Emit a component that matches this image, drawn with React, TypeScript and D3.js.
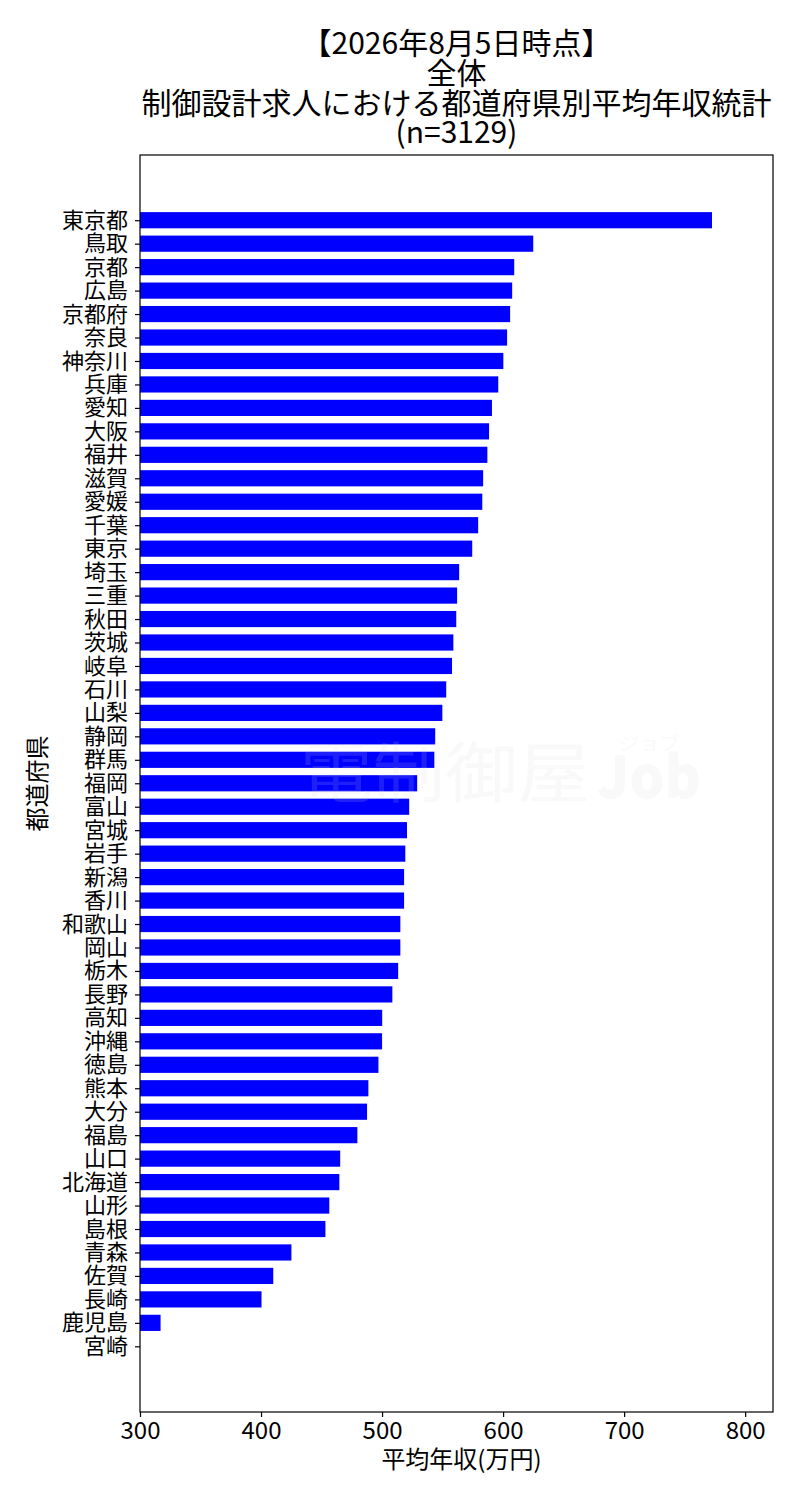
import React, { useEffect, useRef } from 'react';
import * as d3 from 'd3';

// 都道府県 (sorted by salary, descending)
const prefectures = [
  '東京都', '鳥取', '京都', '広島', '京都府', '奈良', '神奈川', '兵庫', '愛知', '大阪',
  '福井', '滋賀', '愛媛', '千葉', '東京', '埼玉', '三重', '秋田', '茨城', '岐阜',
  '石川', '山梨', '静岡', '群馬', '福岡', '富山', '宮城', '岩手', '新潟', '香川',
  '和歌山', '岡山', '栃木', '長野', '高知', '沖縄', '徳島', '熊本', '大分', '福島',
  '山口', '北海道', '山形', '島根', '青森', '佐賀', '長崎', '鹿児島', '宮崎',
];

// 平均年収 (万円)
const salaries = [
  772.6, 624.9, 609.2, 607.5, 605.8, 603.3, 600.2, 596.0, 590.8, 588.4,
  587.0, 583.5, 582.8, 579.4, 574.5, 563.7, 562.0, 561.3, 558.9, 557.8,
  553.0, 549.8, 543.9, 543.2, 529.0, 522.4, 520.6, 519.2, 518.2, 518.2,
  515.1, 515.1, 513.3, 508.5, 500.1, 500.0, 497.0, 488.7, 487.6, 479.6,
  465.4, 464.7, 456.4, 453.2, 425.1, 410.1, 400.4, 317.0, 0,
];

const xTicks = [300, 400, 500, 600, 700, 800];

const titleLines = ['【2026年8月5日時点】', '全体', '制御設計求人における都道府県別平均年収統計', '(n=3129)'];

const FONT = '"Noto Sans CJK JP", "Noto Sans", sans-serif';

const W = 800;
const H = 1500;
const margin = { top: 155, right: 27, bottom: 88, left: 140 };

const App: React.FC = () => {
  const ref = useRef<SVGSVGElement | null>(null);

  useEffect(() => {
    const root = d3.select(ref.current);
    root.selectAll('*').remove();

    const innerW = W - margin.left - margin.right;
    const innerH = H - margin.top - margin.bottom;

    const x = d3.scaleLinear().domain([300, 823]).range([0, innerW]);
    const y = d3
      .scaleLinear()
      .domain([-2.78, prefectures.length - 1 + 2.8])
      .range([0, innerH]);
    const barH = 0.69 * (y(1) - y(0));

    const g = root.append('g').attr('transform', `translate(${margin.left},${margin.top})`);

    // bars
    g.selectAll('rect.bar')
      .data(salaries)
      .enter()
      .append('rect')
      .attr('class', 'bar')
      .attr('x', x(300))
      .attr('y', (_d, i) => y(i) - barH / 2)
      .attr('width', (d) => Math.max(0, x(d) - x(300)))
      .attr('height', barH)
      .attr('fill', '#0000ff');

    // watermark
    const wm = root.append('g').attr('opacity', 0.14).attr('fill', '#d8d8d8').style('font-family', FONT);
    wm.append('text').attr('x', 300).attr('y', 797).attr('font-size', 66).attr('textLength', 290).attr('lengthAdjust', 'spacingAndGlyphs').text('電制御屋');
    wm.append('text').attr('x', 597).attr('y', 798).attr('font-size', 58).attr('font-weight', 900).attr('textLength', 104).attr('lengthAdjust', 'spacingAndGlyphs').text('Job');
    wm.append('text').attr('x', 618).attr('y', 750).attr('font-size', 18).attr('textLength', 62).attr('lengthAdjust', 'spacingAndGlyphs').text('ジョブ');

    // y axis
    const yAxis = d3
      .axisLeft(y)
      .tickValues(d3.range(prefectures.length))
      .tickFormat((d) => prefectures[d as number])
      .tickSize(5)
      .tickPadding(7);
    const ya = g.append('g').call(yAxis);
    ya.select('.domain').remove();
    ya.selectAll('text').style('font-family', FONT).style('font-size', '22px').attr('fill', '#000');
    ya.selectAll('line').attr('stroke', '#000').attr('stroke-width', 1.2);

    // x axis
    const xAxis = d3.axisBottom(x).tickValues(xTicks).tickFormat(d3.format('d')).tickSize(5).tickPadding(5);
    const xa = g.append('g').attr('transform', `translate(0,${innerH})`).call(xAxis);
    xa.select('.domain').remove();
    xa.selectAll('text').style('font-family', FONT).style('font-size', '24px').attr('fill', '#000');
    xa.selectAll('line').attr('stroke', '#000').attr('stroke-width', 1.2);

    // frame
    g.append('rect')
      .attr('x', 0)
      .attr('y', 0)
      .attr('width', innerW)
      .attr('height', innerH)
      .attr('fill', 'none')
      .attr('stroke', '#000')
      .attr('stroke-width', 1.2);

    // axis labels
    root
      .append('text')
      .attr('x', margin.left + innerW / 2 + 5)
      .attr('y', 1468)
      .attr('text-anchor', 'middle')
      .style('font-family', FONT)
      .style('font-size', '24px')
      .text('平均年収(万円)');

    root
      .append('text')
      .attr('transform', `translate(46,${margin.top + innerH / 2}) rotate(-90)`)
      .attr('text-anchor', 'middle')
      .style('font-family', FONT)
      .style('font-size', '24px')
      .text('都道府県');

    // title
    const baselines = [54, 84, 114, 143];
    root
      .selectAll('text.title')
      .data(titleLines)
      .enter()
      .append('text')
      .attr('class', 'title')
      .attr('x', margin.left + innerW / 2)
      .attr('y', (_d, i) => baselines[i])
      .attr('text-anchor', 'middle')
      .style('font-family', FONT)
      .style('font-size', '30px')
      .text((d) => d);
  }, []);

  return <svg ref={ref} width={W} height={H} style={{ display: 'block', margin: '-8px' }} />;
};

export default App;
